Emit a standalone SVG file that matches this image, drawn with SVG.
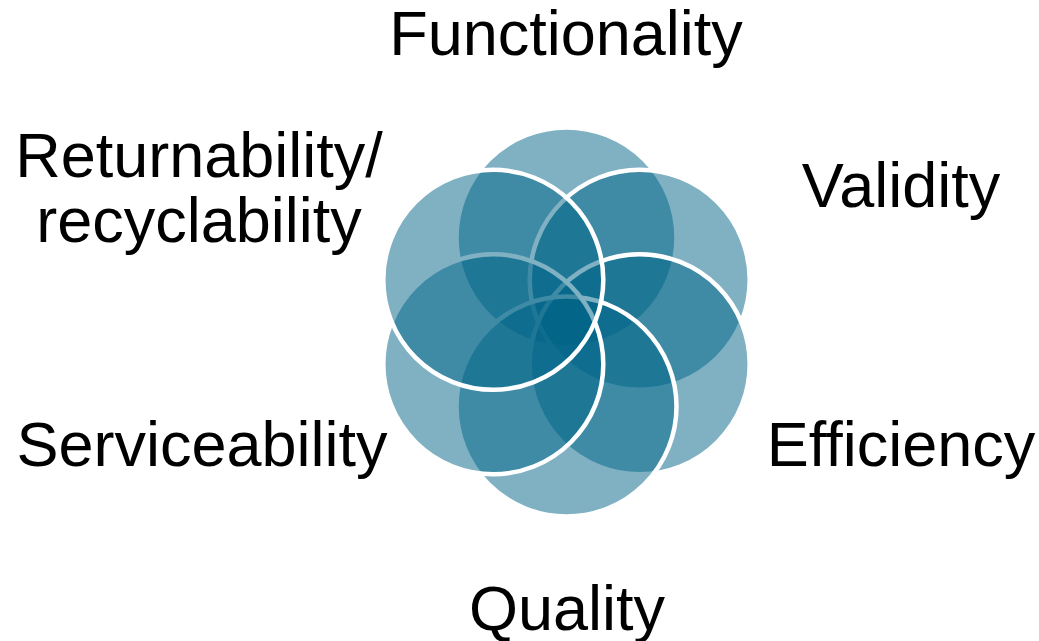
<svg xmlns="http://www.w3.org/2000/svg" width="1039" height="641" viewBox="0 0 1039 641">
<style>
.c{fill:#006488;fill-opacity:0.5;stroke:#ffffff;stroke-width:4.5}
.t{font-family:"Liberation Sans",Arial,sans-serif;font-size:63px;fill:#000;text-anchor:middle}
</style>
<rect width="1039" height="641" fill="#ffffff"/>
<g id="node-functionality"><circle class="c" cx="566.5" cy="237.5" r="110"/><text class="t" x="566" y="55">Functionality</text></g>
<g id="node-validity"><circle class="c" cx="639.7" cy="279.8" r="110"/><text class="t" x="901" y="207">Validity</text></g>
<g id="node-efficiency"><circle class="c" cx="639.7" cy="364.2" r="110"/><text class="t" x="901" y="466">Efficiency</text></g>
<g id="node-quality"><circle class="c" cx="566.5" cy="406.5" r="110"/><text class="t" x="567" y="630">Quality</text></g>
<g id="node-serviceability"><circle class="c" cx="493.3" cy="364.2" r="110"/><text class="t" x="202" y="466">Serviceability</text></g>
<g id="node-returnability"><circle class="c" cx="493.3" cy="279.8" r="110"/><text class="t" x="199" y="177">Returnability/</text><text class="t" x="199" y="242">recyclability</text></g>
<g id="connectors"></g>
</svg>
